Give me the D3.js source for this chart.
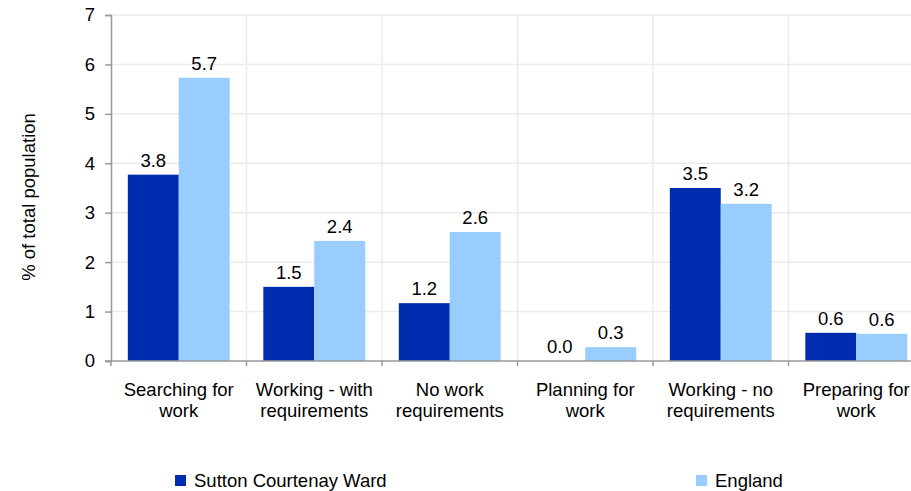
<!DOCTYPE html>
<html><head><meta charset="utf-8">
<script src="https://cdn.jsdelivr.net/npm/d3@7"></script>
<style>body{margin:0;background:#fff}svg{display:block}text{font-family:"Liberation Sans",Arial,sans-serif;fill:#000}</style>
</head><body>
<svg id="c" width="911" height="491"></svg>
<script>
const categories = [["Searching for","work"],["Working - with","requirements"],["No work","requirements"],["Planning for","work"],["Working - no","requirements"],["Preparing for","work"]];
const seriesNames = ["Sutton Courtenay Ward","England"];
const sutton = [3.77, 1.50, 1.17, 0.0, 3.50, 0.57];
const england = [5.73, 2.43, 2.61, 0.28, 3.18, 0.55];
const suttonLabels = ["3.8","1.5","1.2","0.0","3.5","0.6"];
const englandLabels = ["5.7","2.4","2.6","0.3","3.2","0.6"];
const yTicks = [0,1,2,3,4,5,6,7];
const colors = ["#002DB0","#99CCFF"];

(function(){
const FS = 18.5;
const svg = d3.select("#c");
const pL = 111, pR = 924, pT = 15, pB = 361;
const x = d3.scaleBand().domain(d3.range(categories.length)).range([pL,pR]).paddingInner(0).paddingOuter(0);
const xs = d3.scaleBand().domain([0,1]).range([0,x.bandwidth()]).paddingOuter(0.33).paddingInner(0);
const y = d3.scaleLinear().domain([0,7]).range([pB,pT]);

const g = svg.append("g");
g.selectAll("line.h").data(yTicks.slice(1)).join("line")
  .attr("x1",pL).attr("x2",pR).attr("y1",d=>y(d)).attr("y2",d=>y(d))
  .attr("stroke","#ebebeb").attr("stroke-width",1.5);
g.selectAll("line.v").data(d3.range(1,categories.length+1)).join("line")
  .attr("x1",d=>pL+d*x.bandwidth()).attr("x2",d=>pL+d*x.bandwidth()).attr("y1",pT).attr("y2",pB)
  .attr("stroke","#ebebeb").attr("stroke-width",1.5);

const series = [sutton, england];
const labels = [suttonLabels, englandLabels];
series.forEach((vals,si)=>{
  svg.append("g").selectAll("rect").data(vals).join("rect")
    .attr("x",(d,i)=>x(i)+xs(si)).attr("width",xs.bandwidth())
    .attr("y",d=>y(d)).attr("height",d=>pB-y(d)).attr("fill",colors[si]);
  svg.append("g").selectAll("text").data(vals).join("text")
    .attr("x",(d,i)=>x(i)+xs(si)+xs.bandwidth()/2).attr("y",d=>y(d)-8)
    .attr("text-anchor","middle").attr("font-size",FS).text((d,i)=>labels[si][i]);
});

const yAxis = d3.axisLeft(y).tickValues(yTicks).tickSize(6).tickPadding(10).tickFormat(d3.format("d"));
const ya = svg.append("g").attr("transform",`translate(${pL},0)`).call(yAxis);
ya.select(".domain").attr("stroke","#999").attr("stroke-width",1.5);
ya.selectAll(".tick line").attr("stroke","#999").attr("stroke-width",1.5);
ya.selectAll(".tick text").attr("font-size",FS).attr("font-family","Liberation Sans, Arial, sans-serif").attr("fill","#000");

const xa = svg.append("g").attr("transform",`translate(0,${pB})`);
xa.append("line").attr("x1",pL-6).attr("x2",pR).attr("stroke","#999").attr("stroke-width",1.5);
xa.selectAll("line.t").data(d3.range(0,categories.length+1)).join("line")
  .attr("x1",d=>pL+d*x.bandwidth()).attr("x2",d=>pL+d*x.bandwidth()).attr("y1",0).attr("y2",5)
  .attr("stroke","#999").attr("stroke-width",1.5);
const xl = xa.selectAll("text").data(categories).join("text")
  .attr("text-anchor","middle").attr("font-size",FS)
  .attr("transform",(d,i)=>`translate(${x(i)+x.bandwidth()/2},0)`);
xl.selectAll("tspan").data(d=>d).join("tspan").attr("x",0).attr("y",(d,j)=>35+j*20.5).text(d=>d);

svg.append("text").attr("transform","translate(35,197) rotate(-90)").attr("text-anchor","middle")
  .attr("font-size",FS).text("% of total population");

const legX = [175, 696];
seriesNames.forEach((n,i)=>{
  svg.append("rect").attr("x",legX[i]).attr("y",475).attr("width",11).attr("height",11).attr("fill",colors[i]);
  svg.append("text").attr("x",legX[i]+19).attr("y",487).attr("font-size",FS).text(n);
});
})();
</script>
</body></html>
